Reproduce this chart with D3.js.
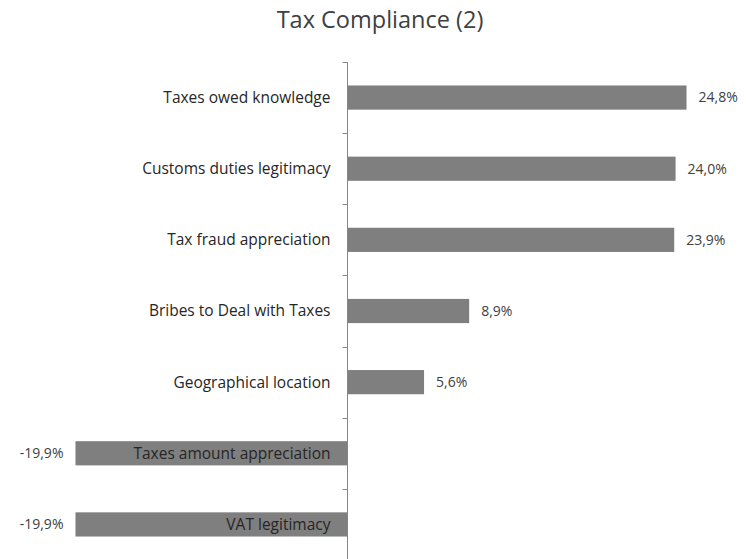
<!DOCTYPE html>
<html>
<head>
<meta charset="utf-8">
<script src="https://cdn.jsdelivr.net/npm/d3@7"></script>
<style>
  html, body { margin: 0; padding: 0; background: #fff; }
  svg { display: block; font-family: "Open Sans", Lato, sans-serif; }
</style>
</head>
<body>
<svg id="chart" width="746" height="559"></svg>
<script>
const categories = [
  "Taxes owed knowledge",
  "Customs duties legitimacy",
  "Tax fraud appreciation",
  "Bribes to Deal with Taxes",
  "Geographical location",
  "Taxes amount appreciation",
  "VAT legitimacy"
];
const values = [24.8, 24.0, 23.9, 8.9, 5.6, -19.9, -19.9];

const svg = d3.select("#chart");
const zeroX = 347.5;
const pxPerUnit = 13.67;
const plotTop = 62, plotBottom = 560;

const x = d3.scaleLinear()
  .domain([-19.9, 24.8])
  .range([zeroX - 19.9 * pxPerUnit, zeroX + 24.8 * pxPerUnit]);

const y = d3.scaleBand()
  .domain(categories)
  .range([plotTop, plotBottom])
  .paddingInner(0.66)
  .paddingOuter(0.33);

const fmt = v => d3.format(".1f")(v).replace(".", ",").replace("−", "-") + "%";

svg.append("text")
  .attr("x", 380).attr("y", 28)
  .attr("text-anchor", "middle")
  .attr("font-size", 23.5)
  .attr("fill", "#404040")
  .text("Tax Compliance (2)");

const data = categories.map((c, i) => ({ c, v: values[i] }));

svg.append("g").selectAll("rect")
  .data(data).join("rect")
  .attr("x", d => x(Math.min(0, d.v)))
  .attr("y", d => y(d.c))
  .attr("width", d => Math.abs(x(d.v) - x(0)))
  .attr("height", y.bandwidth())
  .attr("fill", "#7f7f7f");

// category axis at zero, ticks between bands
const boundaries = d3.range(categories.length + 1).map(i => plotTop + i * y.step());
const axis = svg.append("g");
axis.append("line")
  .attr("x1", x(0)).attr("x2", x(0))
  .attr("y1", plotTop).attr("y2", plotBottom)
  .attr("stroke", "#868686").attr("stroke-width", 1);
axis.selectAll("line.tick")
  .data(boundaries).join("line")
  .attr("class", "tick")
  .attr("x1", x(0) - 5).attr("x2", x(0))
  .attr("y1", d => Math.round(d) + 0.5).attr("y2", d => Math.round(d) + 0.5)
  .attr("stroke", "#868686");

// category labels just left of the axis
svg.append("g").selectAll("text")
  .data(data).join("text")
  .attr("x", x(0) - 17)
  .attr("y", d => y(d.c) + y.bandwidth() / 2)
  .attr("dy", "0.35em")
  .attr("text-anchor", "end")
  .attr("font-size", 15.5)
  .attr("fill", "#262626")
  .text(d => d.c);

// value labels outside bar ends
svg.append("g").selectAll("text")
  .data(data).join("text")
  .attr("x", d => d.v >= 0 ? x(d.v) + 12 : x(d.v) - 12)
  .attr("y", d => y(d.c) + y.bandwidth() / 2)
  .attr("dy", "0.35em")
  .attr("text-anchor", d => d.v >= 0 ? "start" : "end")
  .attr("font-size", 14)
  .attr("fill", "#404040")
  .text(d => fmt(d.v));
</script>
</body>
</html>
